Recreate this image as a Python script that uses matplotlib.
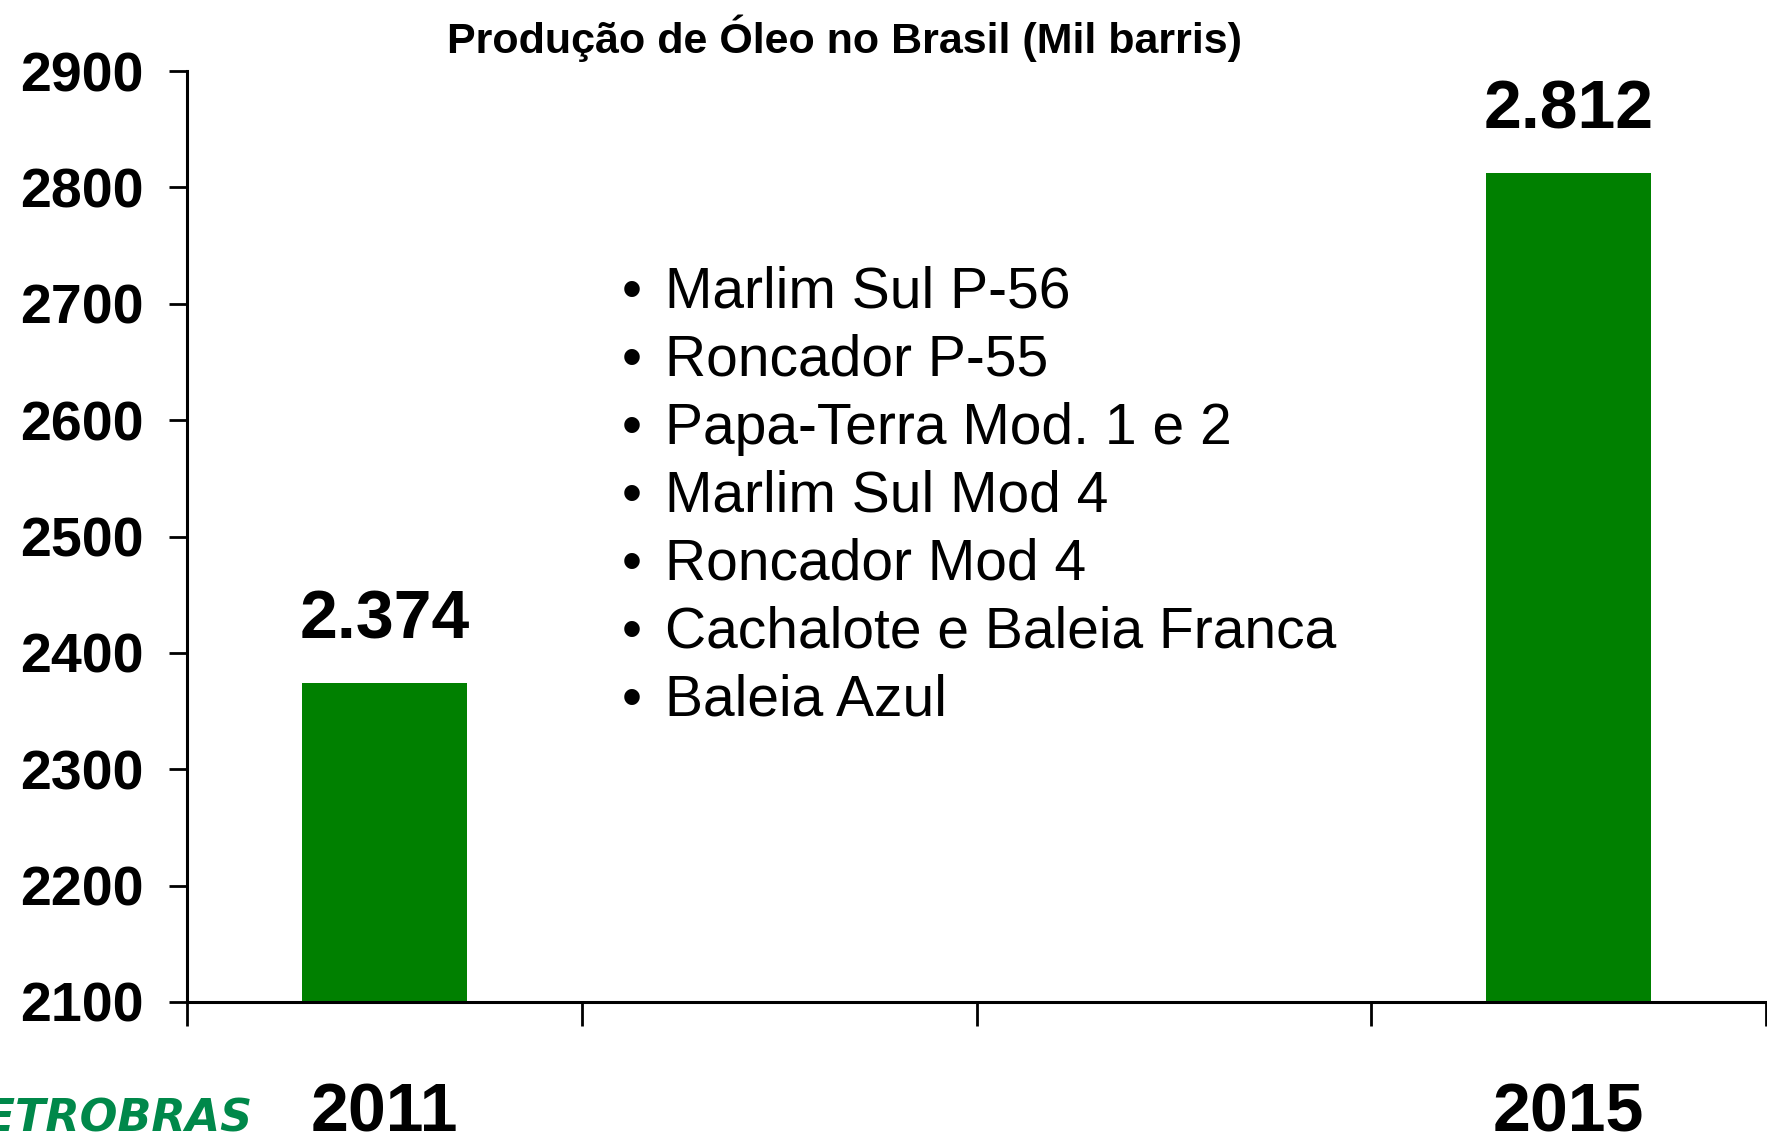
import numpy as np
import matplotlib.pyplot as plt

plt.rcParams["font.family"] = ["Liberation Sans", "DejaVu Sans"]

# data
categories = ["2011", "2012", "2013", "2015"]
shown_labels = ["2011", "", "", "2015"]
production = [2374, np.nan, np.nan, 2812]
value_labels = ["2.374", "", "", "2.812"]
projects = [
    "Marlim Sul P-56",
    "Roncador P-55",
    "Papa-Terra Mod. 1 e 2",
    "Marlim Sul Mod 4",
    "Roncador Mod 4",
    "Cachalote e Baleia Franca",
    "Baleia Azul",
]
title = "Produção de Óleo no Brasil (Mil barris)"

W, H = 1767, 1137
fig = plt.figure(figsize=(W / 100, H / 100), dpi=100)
ax = fig.add_axes([187 / W, 1 - 1002 / H, 1579 / W, 931 / H])

x = np.arange(len(categories))
ax.bar(x, production, width=0.418, color="#008000")

ax.set_xlim(-0.5, len(categories) - 0.5)
ax.set_ylim(2100, 2900)
ax.set_yticks(np.arange(2100, 2901, 100))
ax.set_xticks(np.arange(-0.5, len(categories), 1.0))
ax.set_xticklabels([])

for s in ["top", "right"]:
    ax.spines[s].set_visible(False)
for s in ["left", "bottom"]:
    ax.spines[s].set_linewidth(2.2)

ax.tick_params(axis="y", length=13, width=2, pad=18, labelsize=40)
ax.tick_params(axis="x", length=17, width=2)
for lab in ax.get_yticklabels():
    lab.set_fontweight("bold")

# value labels above bars and year labels below axis
for xi, v, vl, cl in zip(x, production, value_labels, shown_labels):
    if not np.isnan(v):
        ax.annotate(vl, (xi, v), xytext=(0, 32), textcoords="offset points",
                    ha="center", va="baseline", fontsize=49, fontweight="bold")
    if cl:
        ax.text(xi, -129 / 931, cl, transform=ax.get_xaxis_transform(),
                ha="center", va="baseline", fontsize=49, fontweight="bold")

# bullet list
for i, p in enumerate(projects):
    yb = 1 - (308 + 68 * i) / H
    fig.text(632 / W, yb, "•", ha="center", va="baseline", fontsize=41)
    fig.text(665 / W, yb, p, ha="left", va="baseline", fontsize=41)

fig.text(844 / W, 1 - 53 / H, title, ha="center", va="baseline",
         fontsize=31, fontweight="bold")

fig.text(252 / W, 1 - 1132 / H, "PETROBRAS", ha="right", va="baseline",
         fontsize=32, fontweight="bold", fontstyle="italic",
         color="#00884A", family="DejaVu Sans")

fig.savefig("out.png", dpi=100)
